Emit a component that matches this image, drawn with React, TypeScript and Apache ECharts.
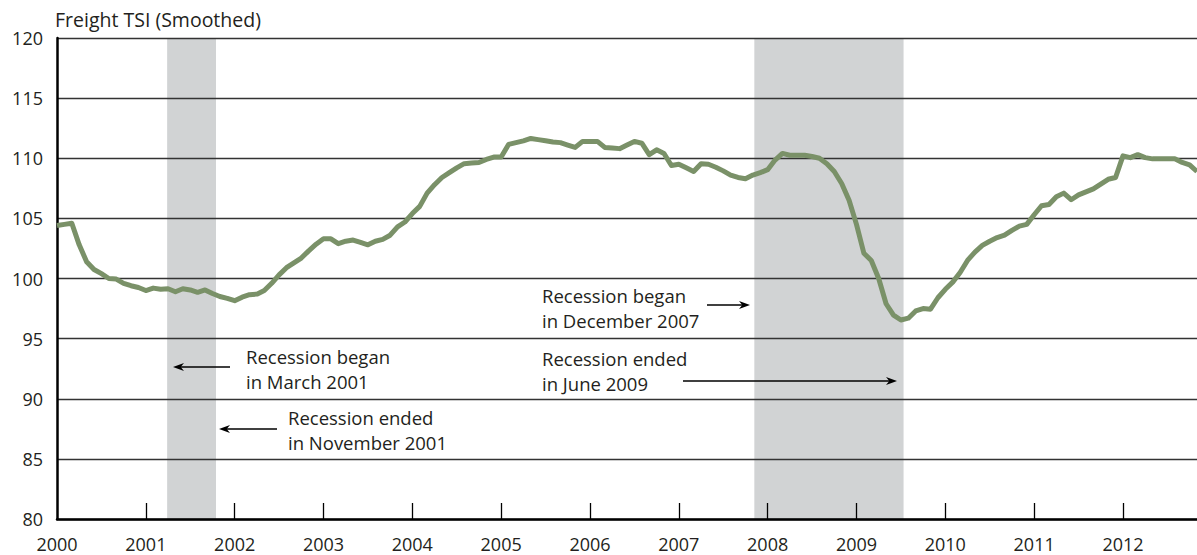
import React, { useEffect, useRef } from "react";
import * as echarts from "echarts";

const startYear = 2000;
const v2000 = [104.4, 104.5, 104.6, 102.8, 101.4, 100.75, 100.4, 100.0, 99.95, 99.6, 99.4, 99.25];
const v2001 = [99.0, 99.2, 99.1, 99.15, 98.9, 99.15, 99.05, 98.85, 99.05, 98.75, 98.5, 98.35];
const v2002 = [98.15, 98.45, 98.65, 98.7, 99.0, 99.6, 100.3, 100.9, 101.3, 101.7, 102.3, 102.85];
const v2003 = [103.3, 103.3, 102.9, 103.1, 103.2, 103.0, 102.8, 103.1, 103.25, 103.6, 104.3, 104.7];
const v2004 = [105.4, 106.0, 107.1, 107.8, 108.4, 108.8, 109.2, 109.55, 109.6, 109.65, 109.9, 110.1];
const v2005 = [110.1, 111.15, 111.3, 111.45, 111.65, 111.55, 111.45, 111.35, 111.3, 111.1, 110.9, 111.4];
const v2006 = [111.4, 111.4, 110.9, 110.85, 110.8, 111.1, 111.4, 111.25, 110.3, 110.7, 110.4, 109.4];
const v2007 = [109.5, 109.2, 108.9, 109.55, 109.5, 109.25, 108.95, 108.6, 108.4, 108.3, 108.6, 108.8];
const v2008 = [109.05, 109.85, 110.4, 110.25, 110.25, 110.25, 110.15, 110.0, 109.55, 108.9, 107.9, 106.5];
const v2009 = [104.5, 102.1, 101.5, 100.0, 97.9, 96.95, 96.55, 96.7, 97.3, 97.5, 97.45, 98.4];
const v2010 = [99.1, 99.7, 100.5, 101.5, 102.2, 102.75, 103.1, 103.4, 103.6, 104.0, 104.35, 104.5];
const v2011 = [105.3, 106.05, 106.15, 106.8, 107.1, 106.55, 106.95, 107.2, 107.45, 107.85, 108.25, 108.4];
const v2012 = [110.2, 110.05, 110.3, 110.05, 109.95, 109.95, 109.95, 109.95, 109.65, 109.45, 108.9];

const monthlyValues = [
  ...v2000, ...v2001, ...v2002, ...v2003, ...v2004, ...v2005, ...v2006,
  ...v2007, ...v2008, ...v2009, ...v2010, ...v2011, ...v2012,
];

const yearLabels = [2000, 2001, 2002, 2003, 2004, 2005, 2006, 2007, 2008, 2009, 2010, 2011, 2012];
const yearTicks = [2001, 2002, 2003, 2004, 2005, 2006, 2007, 2008, 2009, 2010, 2011, 2012];
const recessions = [
  [2001.24, 2001.79],
  [2007.85, 2009.53],
];
const yTicks = [80, 85, 90, 95, 100, 105, 110, 115, 120];

const FONT = "'Open Sans', sans-serif";
const TEXT = "#231f20";

function arrow(x1: number, x2: number, y: number) {
  const dir = x2 > x1 ? 1 : -1;
  const headLen = 11;
  const headW = 4;
  return [
    {
      type: "line",
      shape: { x1, y1: y, x2: x2 - dir * headLen * 0.6, y2: y },
      style: { stroke: "#000", lineWidth: 1.3 },
      z: 20,
    },
    {
      type: "polygon",
      shape: {
        points: [
          [x2, y],
          [x2 - dir * headLen, y - headW],
          [x2 - dir * headLen * 0.7, y],
          [x2 - dir * headLen, y + headW],
        ],
      },
      style: { fill: "#000" },
      z: 20,
    },
  ];
}

function label(x: number, y: number, text: string) {
  return {
    type: "text",
    x,
    y,
    z: 20,
    style: {
      text,
      fill: TEXT,
      font: `18.5px ${FONT}`,
      lineHeight: 25,
      textAlign: "left",
      textVerticalAlign: "middle",
    },
  };
}

export default function App() {
  const ref = useRef<HTMLDivElement>(null);
  useEffect(() => {
    document.body.style.margin = "0";
    const chart = echarts.init(ref.current!, null, { renderer: "svg" });
    const data = monthlyValues.map((v, i) => [startYear + i / 12, v]);
    const xMax = startYear + (monthlyValues.length - 1) / 12;
    chart.setOption({
      animation: false,
      backgroundColor: "#fff",
      title: {
        text: "Freight TSI (Smoothed)",
        left: 50,
        top: 4,
        textStyle: { fontFamily: FONT, fontSize: 19.5, fontWeight: "normal", color: TEXT },
      },
      grid: { left: 57, right: 0, top: 38, bottom: 36, containLabel: false },
      xAxis: {
        type: "value",
        min: startYear,
        max: xMax,
        interval: 1,
        z: 5,
        axisLine: { show: true, lineStyle: { color: "#000", width: 2.5 } },
        axisTick: {
          show: true,
          inside: true,
          length: 16,
          customValues: yearTicks,
          lineStyle: { color: "#000", width: 1.3 },
        },
        axisLabel: {
          customValues: yearLabels,
          margin: 17,
          lineHeight: 16,
          fontFamily: FONT,
          fontSize: 18,
          color: TEXT,
          formatter: (v: number) => String(Math.round(v)),
        },
        splitLine: { show: false },
      },
      yAxis: {
        type: "value",
        min: 80,
        max: 120,
        interval: 5,
        z: 5,
        axisLine: { show: true, lineStyle: { color: "#000", width: 2.5 } },
        axisTick: { show: false },
        axisLabel: {
          margin: 14,
          fontFamily: FONT,
          fontSize: 18,
          color: TEXT,
          customValues: yTicks,
        },
        splitLine: { show: true, lineStyle: { color: "#333", width: 1.3 } },
      },
      series: [
        {
          type: "line",
          data: [],
          z: 1,
          silent: true,
          markArea: {
            silent: true,
            itemStyle: { color: "#d1d3d4" },
            data: recessions.map(([a, b]) => [{ xAxis: a }, { xAxis: b }]),
          },
        },
        {
          type: "line",
          data,
          z: 10,
          showSymbol: false,
          symbol: "none",
          lineStyle: { color: "#7a9168", width: 5, join: "round" },
          silent: true,
        },
      ],
      graphic: [
        label(246, 369, "Recession began\nin March 2001"),
        ...arrow(230, 173, 367),
        label(288, 430, "Recession ended\nin November 2001"),
        ...arrow(277, 219, 429),
        label(542, 308, "Recession began\nin December 2007"),
        ...arrow(707, 750, 305),
        label(542, 371, "Recession ended\nin June 2009"),
        ...arrow(683, 897, 381),
      ],
    });
    return () => chart.dispose();
  }, []);
  return <div ref={ref} style={{ width: 1197, height: 555 }} />;
}
